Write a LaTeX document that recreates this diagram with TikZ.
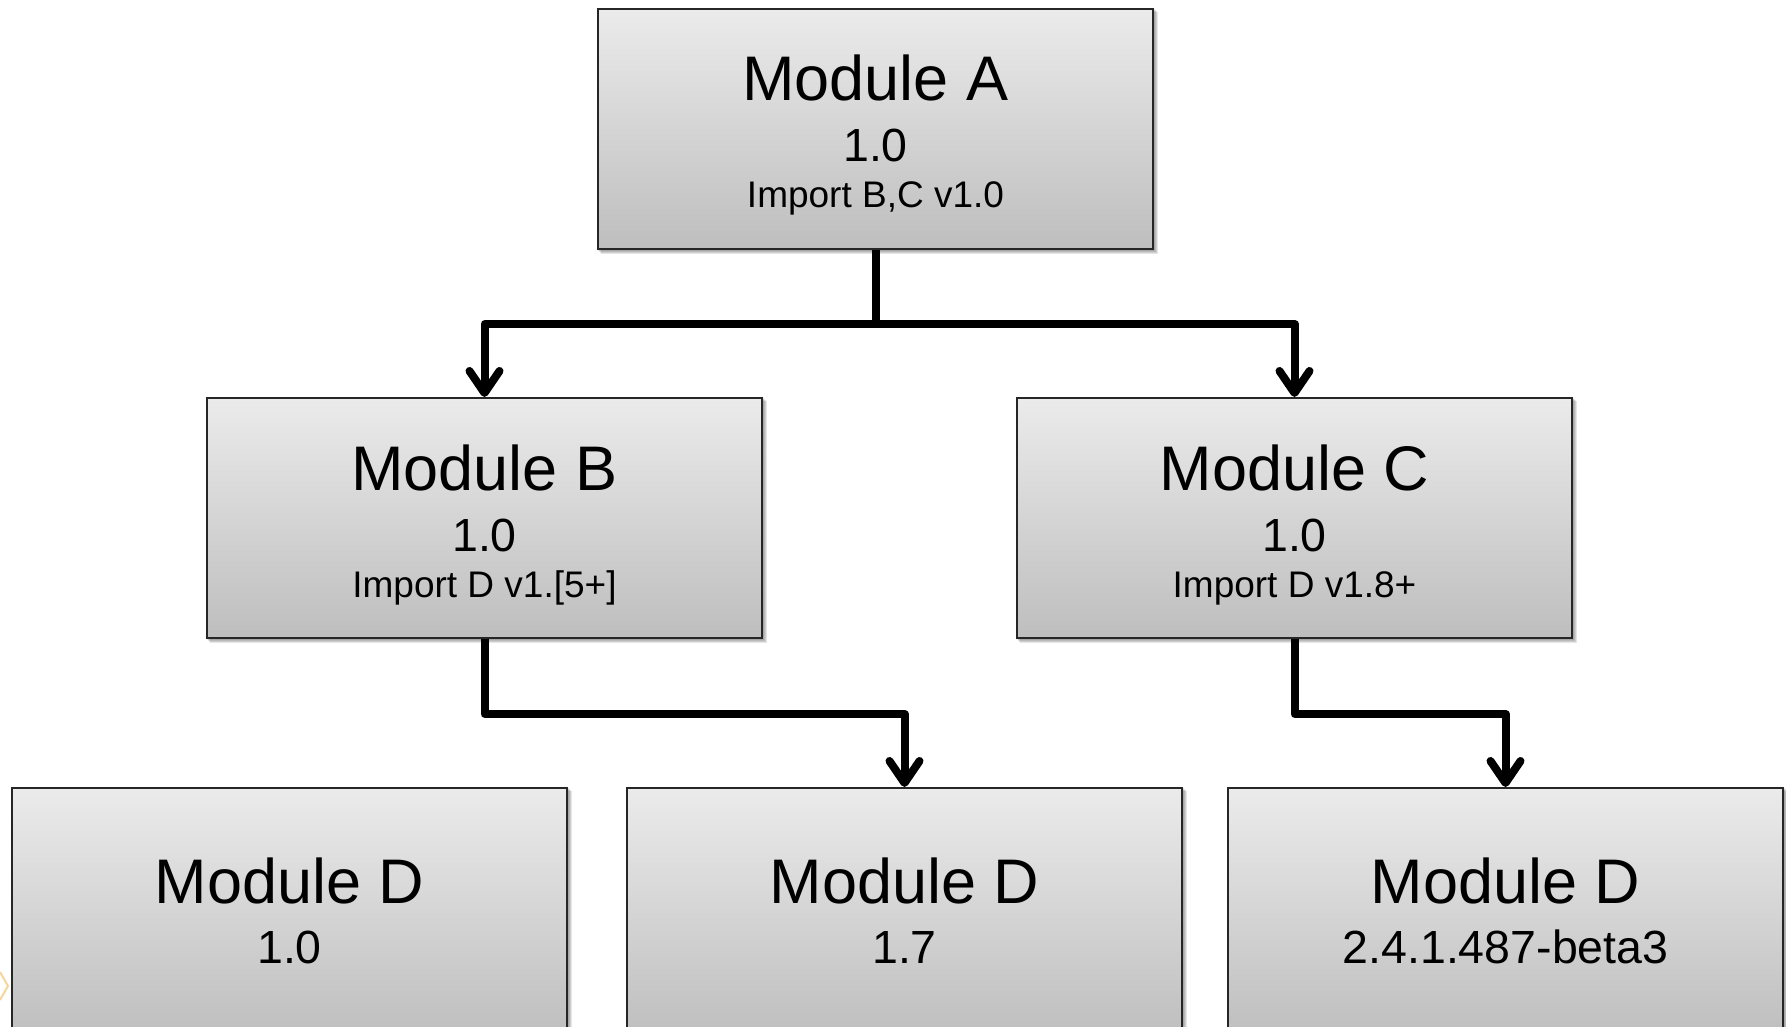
\documentclass[tikz,border=0pt]{standalone}
\usepackage{fontspec}
\setmainfont{Liberation Sans}
\usetikzlibrary{arrows.meta,backgrounds}
\definecolor{boxtop}{HTML}{EBEBEB}
\definecolor{boxbot}{HTML}{BEBEBE}
\definecolor{faintorange}{HTML}{F5D59A}
\begin{document}
\begin{tikzpicture}[x=1pt,y=-1pt,
  modbox/.style={draw=black!85, line width=2pt, top color=boxtop, bottom color=boxbot,
    minimum width=555pt, minimum height=240pt, inner sep=0pt, anchor=north west},
  dbox/.style={modbox, minimum height=250pt},
  titletxt/.style={anchor=base, font=\fontsize{63}{63}\selectfont},
  vertxt/.style={anchor=base, font=\fontsize{46.5}{47}\selectfont},
  imptxt/.style={anchor=base, font=\fontsize{37}{37}\selectfont},
  conn/.style={line width=8pt, line join=round, -{Straight Barb[length=22pt, width=30pt, round]}},
  shade1/.style={fill=black, opacity=0.10}]
\useasboundingbox (0,0) rectangle (1786,1027);

% boxes
\node[modbox] (A) at (597,8) {};
\node[modbox] (B) at (206,397) {};
\node[modbox] (C) at (1016,397) {};
\node[dbox] (D1) at (11,787) {};
\node[dbox] (D2) at (626,787) {};
\node[dbox] (D3) at (1227,787) {};

% soft shadows
\begin{scope}[on background layer]
\foreach \n in {A,B,C,D1,D2,D3}{
  \foreach \s in {1,2,3,4}{
    \fill[shade1] ([xshift=\s pt,yshift=-\s pt]\n.south west) rectangle ([xshift=\s pt,yshift=-\s pt]\n.north east);
  }
}
\end{scope}

% texts
\node[titletxt] (At) at ([yshift=-93pt]A.north) {Module A};
\node[vertxt]   (Av) at ([yshift=-154pt]A.north) {1.0};
\node[imptxt]   (Ai) at ([yshift=-200pt]A.north) {Import B,C v1.0};

\node[titletxt] (Bt) at ([yshift=-93pt]B.north) {Module B};
\node[vertxt]   (Bv) at ([yshift=-154pt]B.north) {1.0};
\node[imptxt]   (Bi) at ([yshift=-200pt]B.north) {Import D v1.[5+]};

\node[titletxt] (Ct) at ([yshift=-93pt]C.north) {Module C};
\node[vertxt]   (Cv) at ([yshift=-154pt]C.north) {1.0};
\node[imptxt]   (Ci) at ([yshift=-200pt]C.north) {Import D v1.8+};

\node[titletxt] (D1t) at ([yshift=-116pt]D1.north) {Module D};
\node[vertxt]   (D1v) at ([yshift=-176pt]D1.north) {1.0};
\node[titletxt] (D2t) at ([yshift=-116pt]D2.north) {Module D};
\node[vertxt]   (D2v) at ([yshift=-176pt]D2.north) {1.7};
\node[titletxt] (D3t) at ([yshift=-116pt]D3.north) {Module D};
\node[vertxt]   (D3v) at ([yshift=-176pt]D3.north) {2.4.1.487-beta3};

% connectors
\coordinate (jA) at ([yshift=-74pt]A.south);
\coordinate (jB) at ([yshift=-75pt]B.south);
\coordinate (jC) at ([yshift=-75pt]C.south);
\draw[conn] (A.south) -- (jA) -| (B.north);
\draw[conn] (jA) -| (C.north);
\draw[conn] (B.south) -- (jB) -| (D2.north);
\draw[conn] (C.south) -- (jC) -| (D3.north);

% faint mark at left edge
\draw[faintorange, line width=2pt] (0,972) -- (8,986) -- (0,1000);
\end{tikzpicture}
\end{document}
